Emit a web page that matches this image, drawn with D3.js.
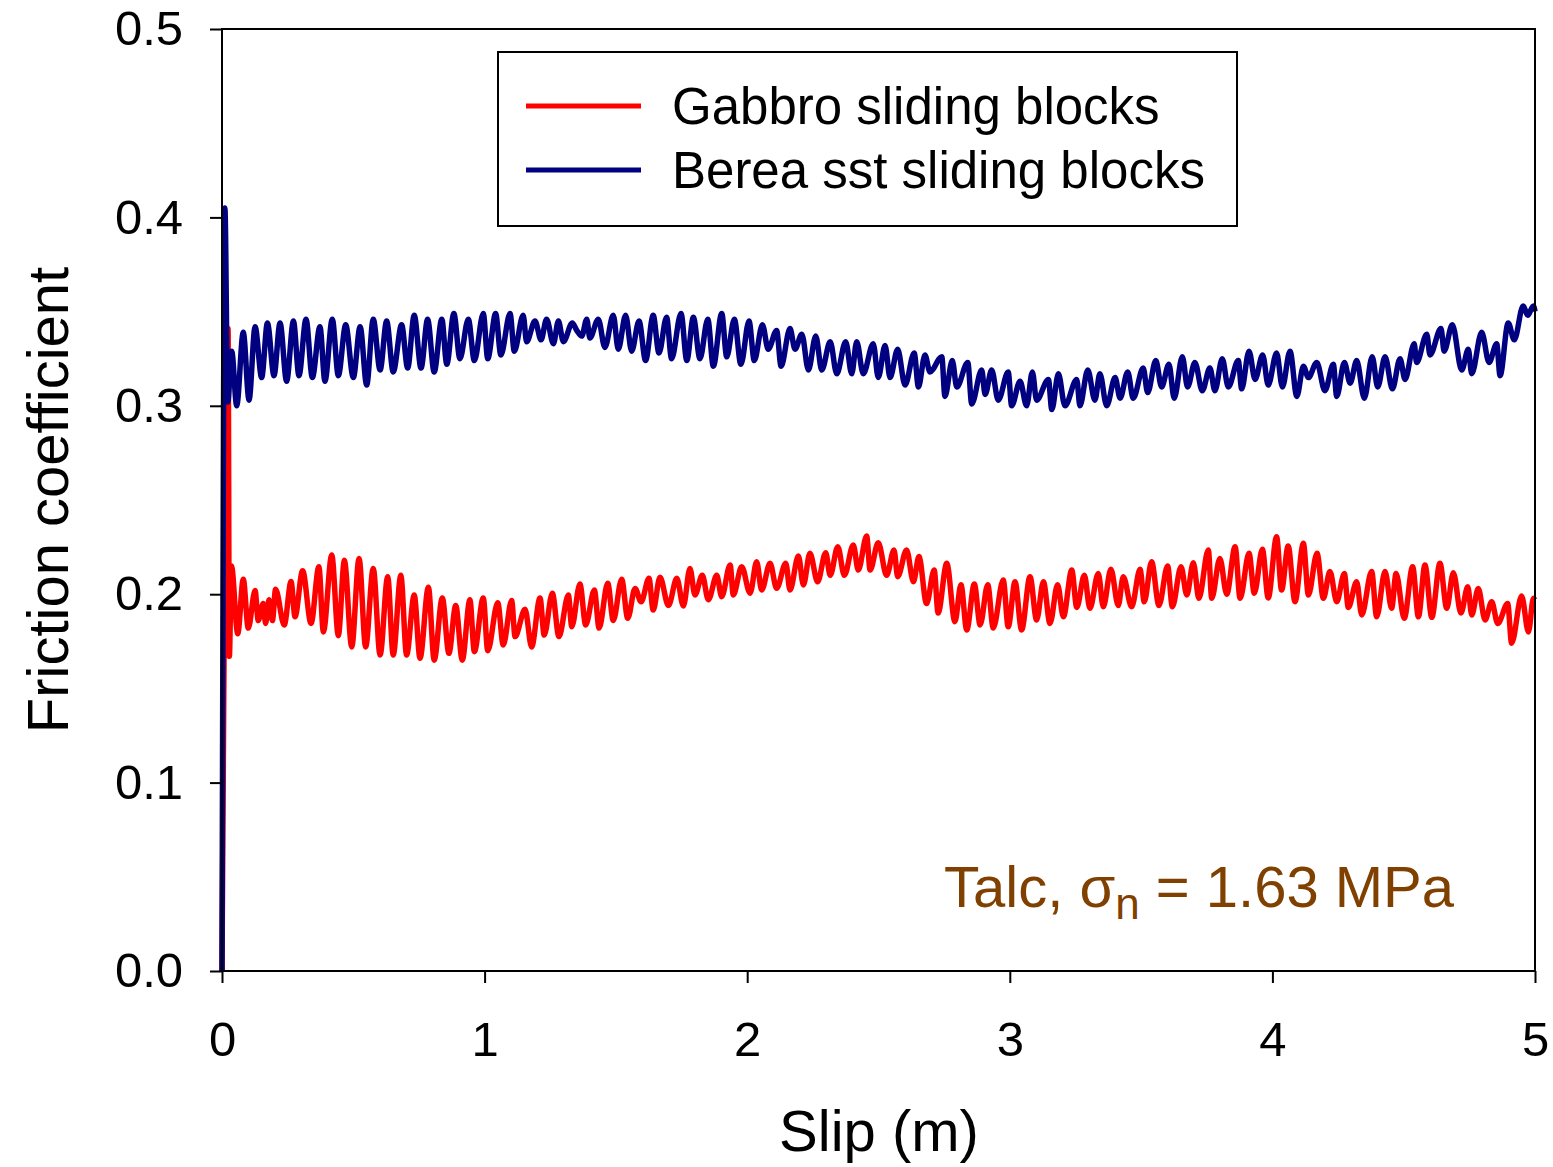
<!DOCTYPE html>
<html>
<head>
<meta charset="utf-8">
<script src="https://cdn.jsdelivr.net/npm/d3@7"></script>
<style>
  body { margin: 0; background: #fff; }
  svg { display: block; }
  text { font-family: Arial, "Liberation Sans", sans-serif; }
</style>
</head>
<body>
<svg id="chart" width="1553" height="1167"></svg>
<script>
// data: [slip (m), friction coefficient]
const gabbro = [
  [0, 0], [0.023, 0.341], [0.028, 0.167], [0.036, 0.215], [0.060, 0.179], [0.081, 0.208],
  [0.100, 0.182], [0.126, 0.202], [0.138, 0.186], [0.157, 0.195], [0.166, 0.1845], [0.179, 0.197],
  [0.192, 0.186], [0.204, 0.2026], [0.237, 0.1837], [0.263, 0.2067], [0.278, 0.188], [0.307, 0.2125],
  [0.339, 0.1845], [0.369, 0.2146], [0.386, 0.180], [0.418, 0.2208], [0.443, 0.178], [0.466, 0.218],
  [0.494, 0.172], [0.522, 0.219], [0.547, 0.172], [0.576, 0.2137], [0.602, 0.1677], [0.631, 0.2093],
  [0.652, 0.1677], [0.681, 0.210], [0.703, 0.1677], [0.732, 0.1996], [0.754, 0.166], [0.786, 0.2037],
  [0.808, 0.165], [0.839, 0.198], [0.864, 0.1686], [0.890, 0.194], [0.915, 0.165], [0.944, 0.197],
  [0.961, 0.1695], [0.995, 0.198], [1.012, 0.170], [1.050, 0.1955], [1.071, 0.173], [1.103, 0.1966],
  [1.116, 0.1775], [1.154, 0.192], [1.179, 0.172], [1.211, 0.198], [1.227, 0.1783], [1.258, 0.2005],
  [1.283, 0.1775], [1.319, 0.1996], [1.332, 0.1827], [1.363, 0.2054], [1.385, 0.1837], [1.418, 0.2022],
  [1.436, 0.182], [1.469, 0.2058], [1.490, 0.186], [1.522, 0.208], [1.545, 0.1872], [1.573, 0.203],
  [1.596, 0.196], [1.626, 0.2084], [1.642, 0.1916], [1.668, 0.209], [1.700, 0.194], [1.732, 0.2084],
  [1.757, 0.1937], [1.782, 0.2137], [1.801, 0.1996], [1.829, 0.210], [1.852, 0.197], [1.884, 0.210],
  [1.903, 0.1987], [1.935, 0.2155], [1.947, 0.1996], [1.979, 0.2146], [2.011, 0.2005], [2.036, 0.2172],
  [2.055, 0.2022], [2.087, 0.2164], [2.112, 0.2031], [2.147, 0.2164], [2.163, 0.2022], [2.195, 0.2203],
  [2.214, 0.2049], [2.239, 0.2217], [2.268, 0.2066], [2.299, 0.222], [2.316, 0.210], [2.345, 0.2252],
  [2.370, 0.210], [2.404, 0.2261], [2.423, 0.2128], [2.455, 0.2309], [2.468, 0.2128], [2.499, 0.2273],
  [2.531, 0.210], [2.559, 0.2235], [2.573, 0.2093], [2.607, 0.2235], [2.633, 0.2066], [2.654, 0.220],
  [2.683, 0.195], [2.712, 0.2128], [2.727, 0.190], [2.760, 0.2164], [2.791, 0.1854], [2.814, 0.205],
  [2.836, 0.181], [2.865, 0.2054], [2.887, 0.1837], [2.916, 0.205], [2.937, 0.182], [2.975, 0.2075],
  [2.994, 0.1827], [3.020, 0.2066], [3.045, 0.181], [3.077, 0.2093], [3.102, 0.1863], [3.128, 0.2066],
  [3.153, 0.1845], [3.182, 0.205], [3.204, 0.188], [3.236, 0.2128], [3.255, 0.193], [3.284, 0.210],
  [3.305, 0.1925], [3.337, 0.211], [3.356, 0.1933], [3.385, 0.2132], [3.413, 0.194], [3.432, 0.2093],
  [3.464, 0.1933], [3.496, 0.2132], [3.512, 0.196], [3.540, 0.2172], [3.568, 0.194], [3.601, 0.215],
  [3.619, 0.1933], [3.652, 0.2146], [3.674, 0.1996], [3.699, 0.2167], [3.720, 0.1978], [3.756, 0.2235],
  [3.769, 0.1978], [3.800, 0.219], [3.826, 0.200], [3.858, 0.2252], [3.877, 0.1978], [3.911, 0.2217],
  [3.931, 0.2005], [3.962, 0.2238], [3.984, 0.198], [4.016, 0.2305], [4.035, 0.2022], [4.060, 0.2256],
  [4.086, 0.196], [4.118, 0.227], [4.137, 0.1996], [4.170, 0.2217], [4.194, 0.1978], [4.219, 0.212],
  [4.245, 0.196], [4.274, 0.211], [4.289, 0.193], [4.321, 0.2066], [4.340, 0.189], [4.378, 0.212],
  [4.397, 0.188], [4.429, 0.212], [4.454, 0.1925], [4.471, 0.211], [4.502, 0.1872], [4.534, 0.2146],
  [4.556, 0.188], [4.581, 0.2155], [4.607, 0.1877], [4.638, 0.2164], [4.664, 0.1925], [4.689, 0.2114],
  [4.718, 0.190], [4.744, 0.204], [4.759, 0.189], [4.784, 0.203], [4.810, 0.1863], [4.835, 0.196],
  [4.858, 0.1845], [4.896, 0.195], [4.911, 0.174], [4.949, 0.199], [4.975, 0.180], [4.994, 0.1978],
  [5.0, 0.197]
];

const berea = [
  [0, 0], [0.011, 0.405], [0.022, 0.302], [0.037, 0.329], [0.056, 0.300], [0.081, 0.339],
  [0.103, 0.303], [0.126, 0.342], [0.151, 0.315], [0.173, 0.344], [0.198, 0.316], [0.221, 0.344],
  [0.246, 0.313], [0.272, 0.345], [0.293, 0.316], [0.320, 0.346], [0.344, 0.315], [0.373, 0.342],
  [0.392, 0.313], [0.420, 0.346], [0.443, 0.316], [0.471, 0.343], [0.500, 0.315], [0.526, 0.342],
  [0.551, 0.311], [0.576, 0.346], [0.602, 0.319], [0.627, 0.345], [0.652, 0.318], [0.684, 0.343],
  [0.707, 0.320], [0.732, 0.348], [0.758, 0.320], [0.783, 0.346], [0.808, 0.318], [0.837, 0.346],
  [0.856, 0.322], [0.883, 0.349], [0.906, 0.325], [0.938, 0.346], [0.961, 0.324], [0.995, 0.349],
  [1.012, 0.325], [1.042, 0.349], [1.062, 0.327], [1.097, 0.349], [1.113, 0.329], [1.147, 0.348],
  [1.160, 0.334], [1.192, 0.345], [1.215, 0.335], [1.236, 0.346], [1.262, 0.333], [1.281, 0.345],
  [1.300, 0.334], [1.334, 0.344], [1.351, 0.340], [1.370, 0.337], [1.389, 0.346], [1.401, 0.336],
  [1.433, 0.346], [1.458, 0.331], [1.490, 0.348], [1.509, 0.330], [1.537, 0.348], [1.560, 0.329],
  [1.588, 0.345], [1.613, 0.324], [1.642, 0.348], [1.664, 0.328], [1.693, 0.347], [1.712, 0.325],
  [1.748, 0.349], [1.770, 0.324], [1.795, 0.347], [1.820, 0.325], [1.850, 0.346], [1.871, 0.321],
  [1.903, 0.349], [1.922, 0.326], [1.951, 0.346], [1.976, 0.322], [2.007, 0.345], [2.027, 0.324],
  [2.058, 0.343], [2.080, 0.330], [2.112, 0.340], [2.129, 0.321], [2.163, 0.341], [2.182, 0.330],
  [2.208, 0.338], [2.233, 0.319], [2.261, 0.337], [2.284, 0.319], [2.316, 0.334], [2.341, 0.317],
  [2.375, 0.334], [2.398, 0.317], [2.417, 0.334], [2.442, 0.317], [2.480, 0.333], [2.499, 0.315],
  [2.525, 0.332], [2.544, 0.315], [2.573, 0.330], [2.601, 0.311], [2.636, 0.328], [2.652, 0.310],
  [2.677, 0.327], [2.696, 0.318], [2.741, 0.326], [2.753, 0.305], [2.781, 0.324], [2.798, 0.310],
  [2.840, 0.323], [2.855, 0.301], [2.893, 0.319], [2.906, 0.306], [2.931, 0.319], [2.956, 0.303],
  [2.994, 0.318], [3.007, 0.300], [3.039, 0.313], [3.064, 0.300], [3.086, 0.318], [3.102, 0.303],
  [3.147, 0.314], [3.160, 0.298], [3.185, 0.317], [3.210, 0.300], [3.255, 0.314], [3.267, 0.300],
  [3.297, 0.319], [3.324, 0.303], [3.343, 0.317], [3.369, 0.300], [3.401, 0.315], [3.420, 0.304],
  [3.449, 0.318], [3.470, 0.304], [3.508, 0.320], [3.525, 0.307], [3.556, 0.324], [3.578, 0.310],
  [3.606, 0.322], [3.626, 0.304], [3.657, 0.326], [3.677, 0.310], [3.705, 0.323], [3.733, 0.308],
  [3.762, 0.320], [3.781, 0.308], [3.809, 0.325], [3.832, 0.310], [3.870, 0.324], [3.883, 0.309],
  [3.911, 0.329], [3.934, 0.314], [3.963, 0.327], [3.984, 0.311], [4.016, 0.328], [4.038, 0.310],
  [4.067, 0.329], [4.093, 0.305], [4.118, 0.321], [4.137, 0.315], [4.169, 0.323], [4.200, 0.308],
  [4.232, 0.322], [4.245, 0.305], [4.274, 0.323], [4.296, 0.312], [4.321, 0.324], [4.350, 0.304],
  [4.380, 0.326], [4.401, 0.310], [4.429, 0.326], [4.457, 0.309], [4.486, 0.325], [4.505, 0.314],
  [4.540, 0.333], [4.549, 0.323], [4.588, 0.338], [4.600, 0.327], [4.642, 0.341], [4.654, 0.329],
  [4.685, 0.343], [4.721, 0.319], [4.746, 0.330], [4.759, 0.317], [4.797, 0.339], [4.825, 0.323],
  [4.854, 0.333], [4.867, 0.316], [4.898, 0.344], [4.921, 0.335], [4.955, 0.353], [4.972, 0.348],
  [4.994, 0.353], [5.0, 0.350]
];

const seriesNames = ["Gabbro sliding blocks", "Berea sst sliding blocks"];
const seriesColors = ["#ff0000", "#000080"];
const xTicks = [0, 1, 2, 3, 4, 5];
const yTicks = [0, 0.1, 0.2, 0.3, 0.4, 0.5];

const margin = { top: 29, right: 18, bottom: 196, left: 222 };
const width = 1553, height = 1167;
const innerWidth = width - margin.left - margin.right;   // 1313
const innerHeight = height - margin.top - margin.bottom; // 942

const svg = d3.select("#chart");
const g = svg.append("g").attr("transform", `translate(${margin.left},${margin.top})`);

const x = d3.scaleLinear().domain([0, 5]).range([0, innerWidth]);
const y = d3.scaleLinear().domain([0, 0.5]).range([innerHeight, 0]);

// data lines (drawn first, frame goes on top)
const line = d3.line().x(d => x(d[0])).y(d => y(d[1])).curve(d3.curveMonotoneX);

[gabbro, berea].forEach((data, i) => {
  g.append("path")
    .datum(data)
    .attr("fill", "none")
    .attr("stroke", seriesColors[i])
    .attr("stroke-width", 5.5)
    .attr("stroke-linejoin", "round")
    .attr("d", line);
});

// axes
const xAxis = g.append("g")
  .attr("transform", `translate(0,${innerHeight})`)
  .call(d3.axisBottom(x).tickValues(xTicks).tickFormat(d3.format("d")).tickSize(12).tickPadding(38));
const yAxis = g.append("g")
  .call(d3.axisLeft(y).tickValues(yTicks).tickFormat(d3.format(".1f")).tickSize(12).tickPadding(27));

[xAxis, yAxis].forEach(ax => {
  ax.select(".domain").remove();
  ax.selectAll(".tick line").attr("stroke", "#000").attr("stroke-width", 2);
  ax.selectAll(".tick text")
    .attr("fill", "#000")
    .style("font-size", "49px")
    .style("font-family", "Arial, 'Liberation Sans', sans-serif");
});

// frame
g.append("rect")
  .attr("x", 0).attr("y", 0)
  .attr("width", innerWidth).attr("height", innerHeight)
  .attr("fill", "none")
  .attr("stroke", "#000")
  .attr("stroke-width", 2);

// axis titles
svg.append("text")
  .attr("x", 879)
  .attr("y", 1151)
  .attr("text-anchor", "middle")
  .style("font-size", "58px")
  .text("Slip (m)");

svg.append("text")
  .attr("transform", `translate(68,${margin.top + innerHeight / 2}) rotate(-90)`)
  .attr("text-anchor", "middle")
  .style("font-size", "58px")
  .text("Friction coefficient");

// legend
const legend = g.append("g").attr("transform", "translate(276,23)");
legend.append("rect")
  .attr("width", 739).attr("height", 174)
  .attr("fill", "#fff")
  .attr("stroke", "#000")
  .attr("stroke-width", 2);

seriesNames.forEach((name, i) => {
  const row = legend.append("g").attr("transform", `translate(0,${54 + i * 64})`);
  row.append("line")
    .attr("x1", 28).attr("x2", 143)
    .attr("stroke", seriesColors[i])
    .attr("stroke-width", 5);
  row.append("text")
    .attr("x", 174).attr("y", 18)
    .style("font-size", "51px")
    .text(name);
});

// annotation
const note = svg.append("text")
  .attr("x", 944).attr("y", 907)
  .attr("fill", "#7f4000")
  .style("font-size", "58px");
note.append("tspan").text("Talc, ");
note.append("tspan").text("σ");
note.append("tspan").attr("dy", 12).style("font-size", "44px").text("n");
note.append("tspan").attr("dy", -12).text(" = 1.63 MPa");
</script>
</body>
</html>
